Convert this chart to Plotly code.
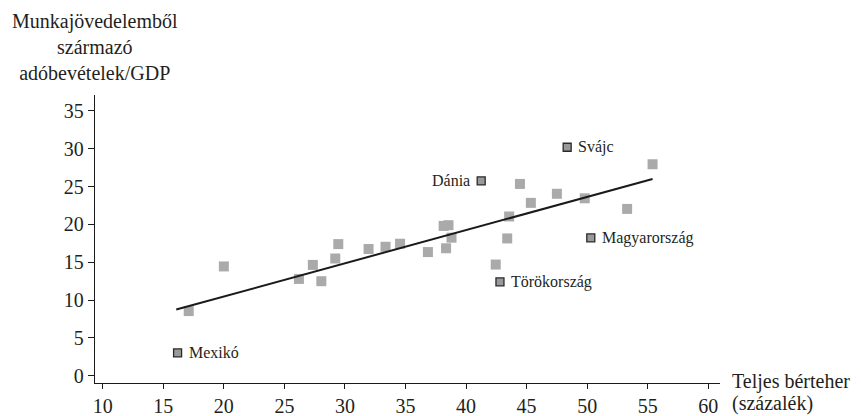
import plotly.graph_objects as go

# Light grey OECD countries (total labour cost %, labour-income tax revenue / GDP)
other_x = [17.1, 20.0, 26.2, 27.35, 28.05, 29.2, 29.45, 31.95, 33.35, 34.55,
           36.85, 38.15, 38.55, 38.8, 38.35, 42.45, 43.4, 43.56, 44.45, 45.35,
           47.5, 49.8, 53.3, 55.4]
other_y = [8.55, 14.45, 12.8, 14.65, 12.5, 15.5, 17.4, 16.75, 17.05, 17.45,
           16.35, 19.8, 19.9, 18.25, 16.85, 14.7, 18.15, 21.05, 25.35, 22.85,
           24.05, 23.45, 22.05, 27.95]

# Highlighted countries
named = ["Mexikó", "Dánia", "Törökország", "Svájc", "Magyarország"]
named_x = [16.18, 41.25, 42.8, 48.35, 50.3]
named_y = [3.02, 25.75, 12.41, 30.2, 18.23]
named_side = ["right", "left", "right", "right", "right"]

# Fitted regression line end points
fit_x = [16.07, 55.4]
fit_y = [8.76, 26.0]

x_ticks = [10, 15, 20, 25, 30, 35, 40, 45, 50, 55, 60]
y_ticks = [0, 5, 10, 15, 20, 25, 30, 35]

TXT = "#231f20"
FONT = "Liberation Serif"

fig = go.Figure()
fig.add_trace(go.Scatter(
    x=other_x, y=other_y, mode="markers",
    marker=dict(symbol="square", size=10, color="#aaaaaa", line=dict(width=0)),
    hoverinfo="skip", showlegend=False))
fig.add_trace(go.Scatter(
    x=fit_x, y=fit_y, mode="lines",
    line=dict(color="#1a1a1a", width=2), showlegend=False))
fig.add_trace(go.Scatter(
    x=named_x, y=named_y, mode="markers",
    marker=dict(symbol="square", size=8, color="#999999",
                line=dict(width=1.3, color="#2a2a2a")),
    showlegend=False))

for name, xv, yv, side in zip(named, named_x, named_y, named_side):
    fig.add_annotation(
        x=xv, y=yv, text=name, showarrow=False,
        xanchor="left" if side == "right" else "right", yanchor="middle",
        xshift=9 if side == "right" else -9,
        font=dict(family=FONT, size=16, color=TXT))

fig.add_annotation(
    xref="paper", yref="paper", x=0, y=1, xanchor="center", yanchor="bottom",
    yshift=9, align="center", showarrow=False,
    text="Munkajövedelemből<br>származó<br>adóbevételek/GDP",
    font=dict(family=FONT, size=20, color=TXT))

x_title_lines = ["Teljes bérteher", "(százalék)"]
for i, line in enumerate(x_title_lines):
    fig.add_annotation(
        xref="paper", yref="paper", x=1, y=0, xanchor="left", yanchor="middle",
        xshift=10, yshift=2 - 22 * i, align="left", showarrow=False,
        text=line, font=dict(family=FONT, size=20, color=TXT))

axis_common = dict(
    showgrid=False, zeroline=False, showline=True, linecolor="#1a1a1a",
    linewidth=1.3, ticks="outside", tickcolor="#1a1a1a", tickwidth=1.3,
    automargin=False,
    tickfont=dict(family=FONT, size=20, color=TXT))

fig.update_xaxes(range=[9.36, 60.97], tickvals=x_ticks, ticklen=5, **axis_common)
fig.update_yaxes(range=[-0.95, 37.1], tickvals=y_ticks, ticklen=6, **axis_common)

# the page body adds an 8px offset, so margins are reduced accordingly
fig.update_layout(
    width=862, height=416,
    margin=dict(l=87, r=150, t=87, b=41),
    paper_bgcolor="white", plot_bgcolor="white",
    font=dict(family=FONT, color=TXT))

fig.write_html("out.html")
